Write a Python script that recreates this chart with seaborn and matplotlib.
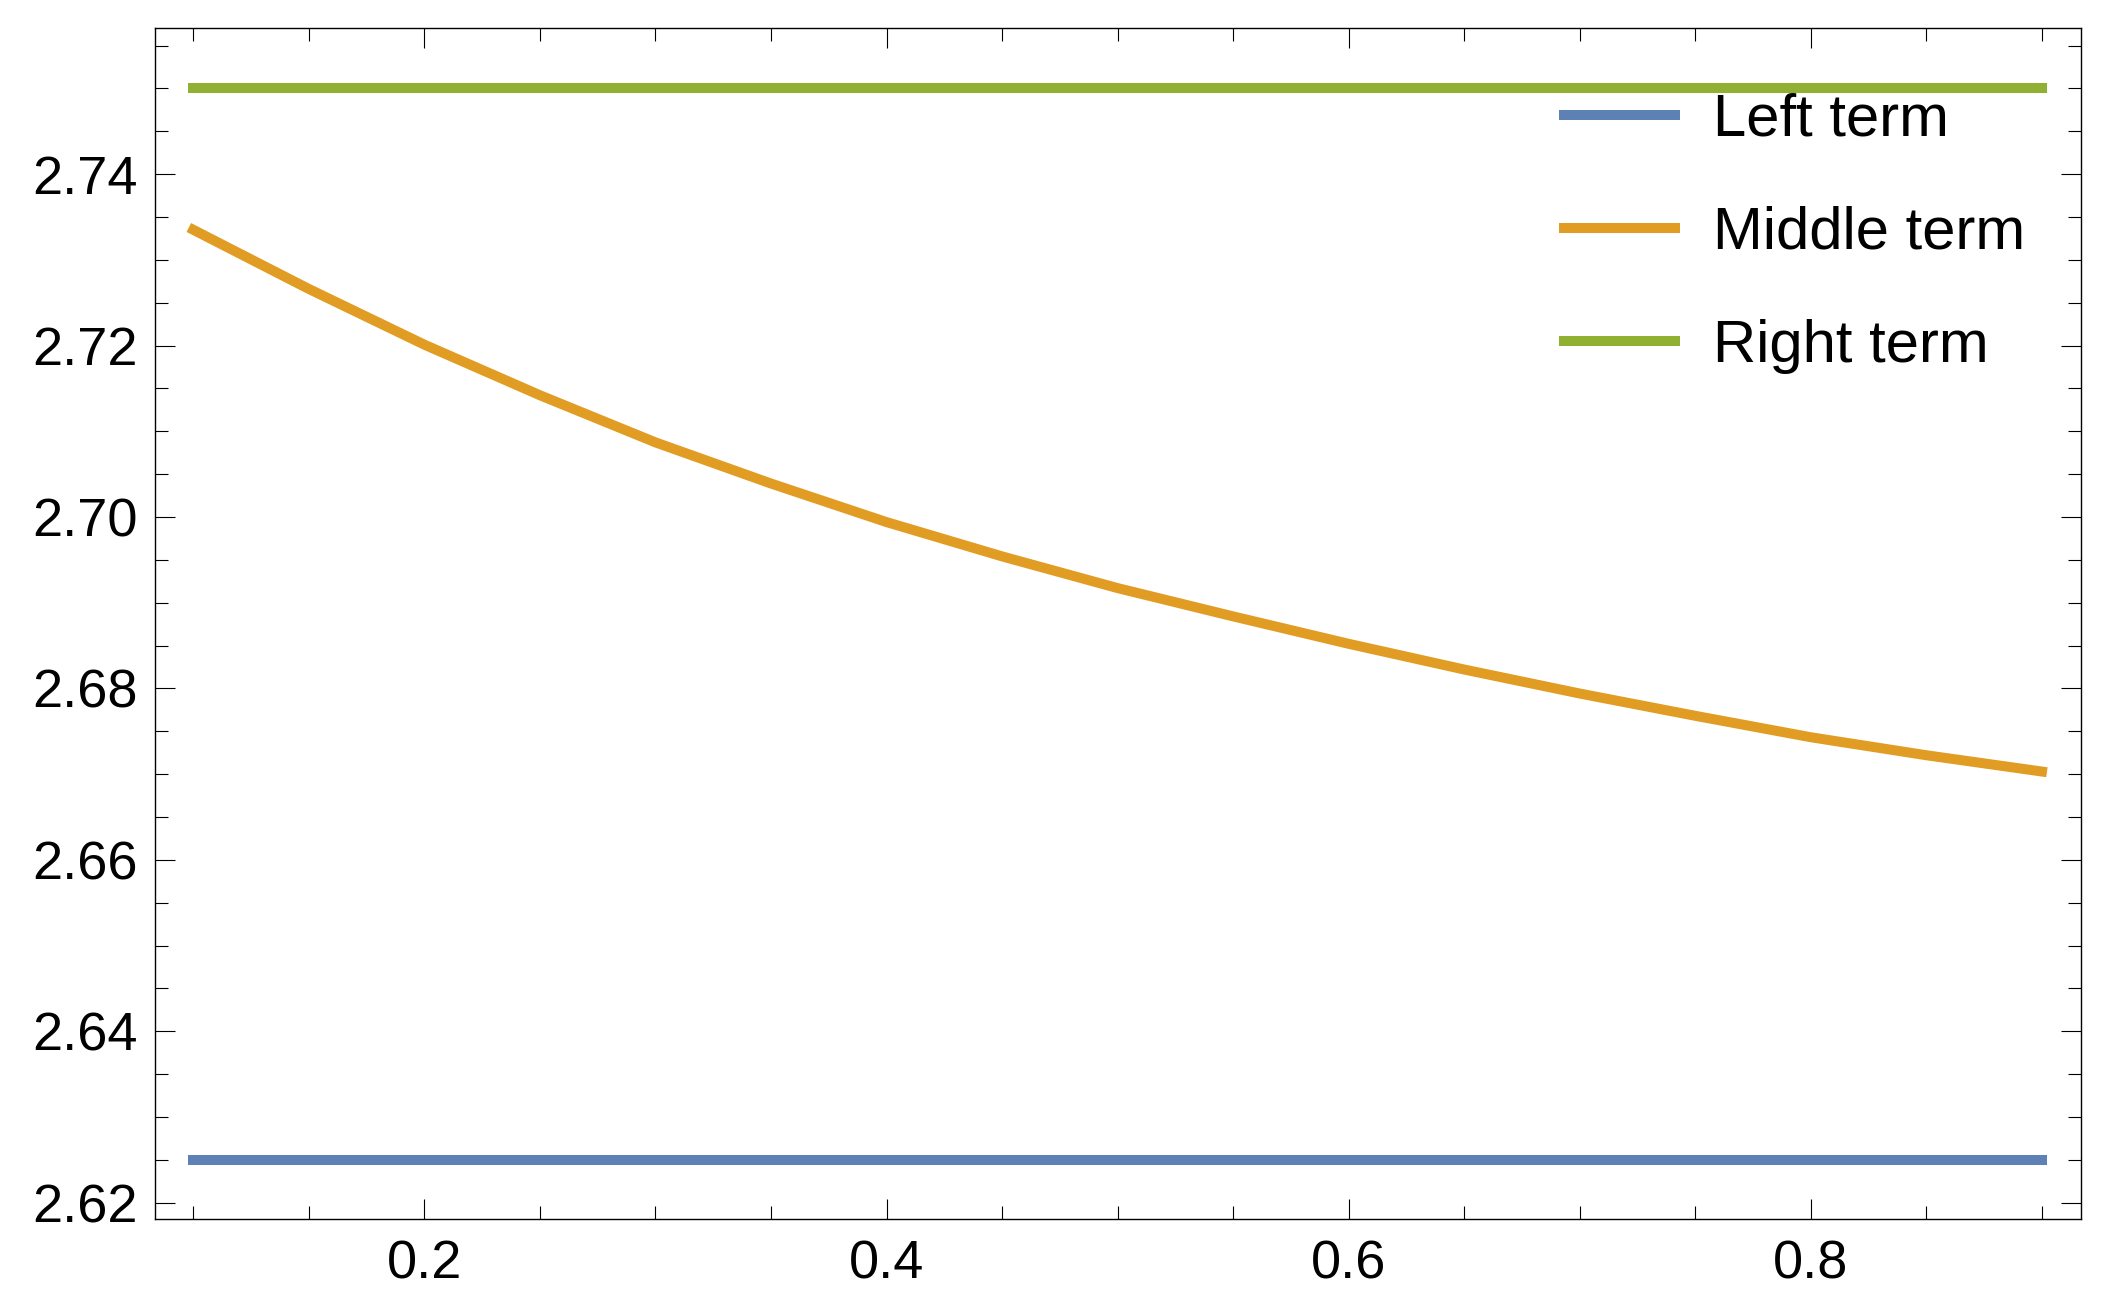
import numpy as np
import pandas as pd
import seaborn as sns
from matplotlib import pyplot as plt
from matplotlib.ticker import MultipleLocator, FormatStrFormatter

sns.set_style('ticks')
plt.rcParams['font.family'] = ['Liberation Sans', 'DejaVu Sans']
plt.rcParams['text.color'] = 'black'
plt.rcParams['xtick.color'] = 'black'
plt.rcParams['ytick.color'] = 'black'

# values
x_vals = [0.1, 0.15, 0.2, 0.25, 0.3, 0.35, 0.4, 0.45, 0.5,
          0.55, 0.6, 0.65, 0.7, 0.75, 0.8, 0.85, 0.9]
middle = [2.7335, 2.7266, 2.7201, 2.7142, 2.7087, 2.7039, 2.6994, 2.6954, 2.6917,
          2.6884, 2.6852, 2.6822, 2.6794, 2.6768, 2.6743, 2.6722, 2.6703]
x_ends = [0.1, 0.9]
left = [2.625, 2.625]
right = [2.75, 2.75]

names = ['Left term', 'Middle term', 'Right term']
colors = ['#5E81B5', '#E19C24', '#8FB032']

df = pd.concat([
    pd.DataFrame({'x': x_ends, 'y': left, 'term': names[0]}),
    pd.DataFrame({'x': x_vals, 'y': middle, 'term': names[1]}),
    pd.DataFrame({'x': x_ends, 'y': right, 'term': names[2]}),
])

fig = plt.figure(figsize=(21.17, 13.13), dpi=100)
ax = fig.add_axes([0.0734, 0.0716, 0.9096, 0.9068])

sns.lineplot(data=df, x='x', y='y', hue='term', palette=colors,
             linewidth=7.2, ax=ax, sort=False)
for ln in ax.get_lines():
    ln.set_solid_capstyle('projecting')
    ln.set_solid_joinstyle('round')

ax.set_xlim(0.0836, 0.9169)
ax.set_ylim(2.6181, 2.757)
ax.xaxis.set_major_locator(MultipleLocator(0.2))
ax.xaxis.set_minor_locator(MultipleLocator(0.05))
ax.yaxis.set_major_locator(MultipleLocator(0.02))
ax.yaxis.set_minor_locator(MultipleLocator(0.005))
ax.xaxis.set_major_formatter(FormatStrFormatter('%.1f'))
ax.yaxis.set_major_formatter(FormatStrFormatter('%.2f'))

ax.tick_params(which='both', direction='in', top=True, right=True,
               width=0.8, color='black', labelcolor='black', labelsize=39)
ax.tick_params(which='major', length=14.5)
ax.tick_params(which='minor', length=9.5)
ax.tick_params(axis='x', which='major', pad=15)
ax.tick_params(axis='y', which='major', pad=13)
for sp in ax.spines.values():
    sp.set_linewidth(1.0)
    sp.set_color('black')
ax.set_xlabel('')
ax.set_ylabel('')

leg = ax.legend(loc='upper left', bbox_to_anchor=(0.729, 0.946), frameon=False,
                fontsize=43, handlelength=2.03, handletextpad=0.55,
                labelspacing=0.97, borderpad=0, borderaxespad=0)
for h in leg.get_lines():
    h.set_linewidth(7.2)
    h.set_solid_capstyle('butt')
for t in leg.get_texts():
    t.set_color('black')

plt.savefig('out.png', dpi=100)
